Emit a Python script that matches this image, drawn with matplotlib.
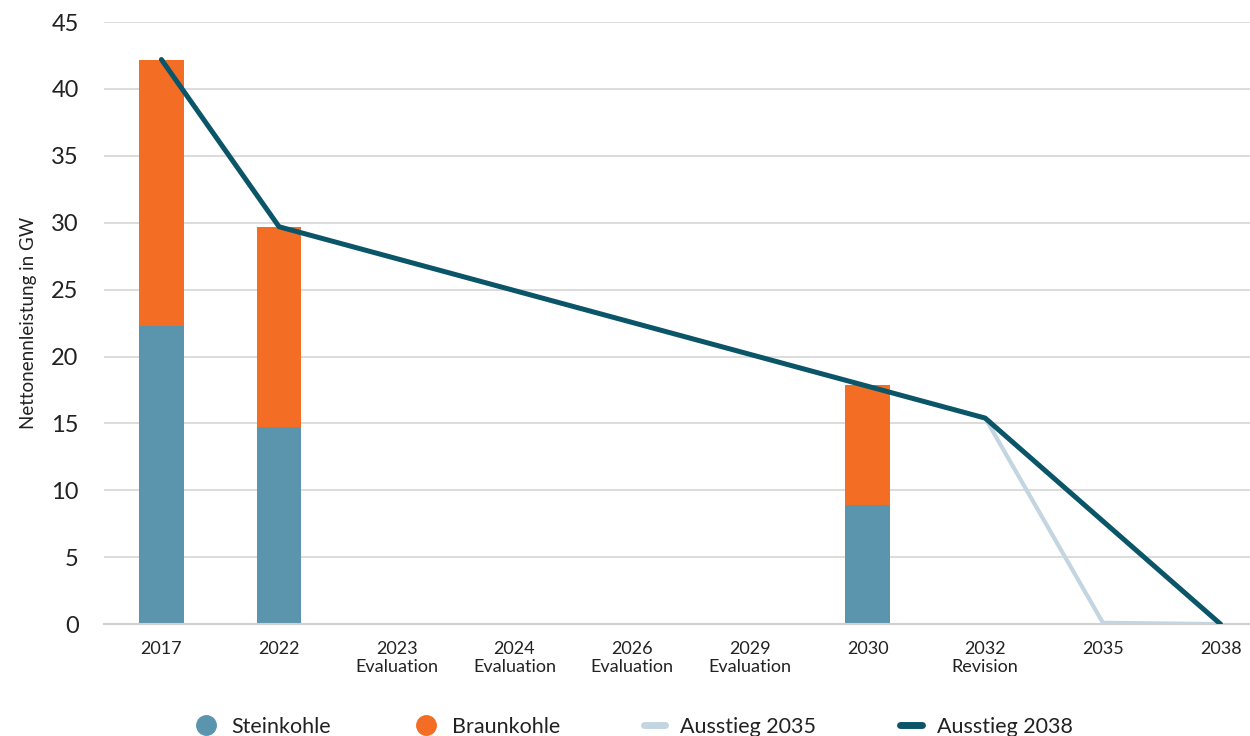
"""Kohleausstieg: installed coal capacity and phase-out paths."""

import matplotlib.pyplot as plt
from matplotlib.lines import Line2D
import numpy as np

plt.rcParams["font.family"] = ["Lato", "DejaVu Sans"]

categories = [
    "2017", "2022", "2023\nEvaluation", "2024\nEvaluation", "2026\nEvaluation",
    "2029\nEvaluation", "2030", "2032\nRevision", "2035", "2038",
]
steinkohle = [22.3, 14.7, 0, 0, 0, 0, 8.9, 0, 0, 0]
braunkohle = [19.9, 15.0, 0, 0, 0, 0, 9.0, 0, 0, 0]
ausstieg_2035 = [np.nan, np.nan, np.nan, np.nan, np.nan, np.nan, np.nan, 15.4, 0.1, 0.0]
ausstieg_2038 = [42.2, 29.7, np.nan, np.nan, np.nan, np.nan, np.nan, 15.4, 7.7, 0.0]

STEIN = "#5b95ad"
BRAUN = "#f36e24"
LIGHT = "#c3d5e0"
DARK = "#0b5569"

fig = plt.figure(figsize=(12.5, 7.36), dpi=100)
ax = fig.add_axes([0.083, 0.152, 0.917, 0.818])

x = np.arange(len(categories))
width = 0.38
has_bar = np.array(steinkohle) + np.array(braunkohle) > 0
ax.bar(x[has_bar], np.array(steinkohle)[has_bar], width, color=STEIN, zorder=2)
ax.bar(x[has_bar], np.array(braunkohle)[has_bar], width,
       bottom=np.array(steinkohle)[has_bar], color=BRAUN, zorder=2)


def _plot_connected(values, **kwargs):
    """Plot a line through the defined points only (gaps are bridged)."""
    values = np.array(values, dtype=float)
    mask = ~np.isnan(values)
    ax.plot(x[mask], values[mask], solid_capstyle="round",
            solid_joinstyle="round", **kwargs)


_plot_connected(ausstieg_2035, color=LIGHT, lw=3.0, zorder=3)
_plot_connected(ausstieg_2038, color=DARK, lw=3.6, zorder=4)

ax.set_xlim(-0.49, 9.25)
ax.set_ylim(0, 45)
ax.set_yticks(range(0, 46, 5))
ax.set_xticks(x)
ax.set_xticklabels(categories, fontsize=13, color="#222222", linespacing=1.2)
ax.tick_params(axis="y", labelsize=17, colors="#222222", length=0, pad=18)
ax.tick_params(axis="x", length=0, pad=12)
ax.grid(axis="y", color="#d9d9d9", lw=1.3, zorder=0)
ax.set_axisbelow(True)
for side in ["top", "right", "left"]:
    ax.spines[side].set_visible(False)
ax.spines["bottom"].set_color("#d0d0d0")
ax.spines["bottom"].set_linewidth(1.5)
ax.set_ylabel("Nettonennleistung in GW", fontsize=13.5, color="#222222", labelpad=10)

handles = [
    Line2D([], [], ls="none", marker="o", ms=14, color=STEIN),
    Line2D([], [], ls="none", marker="o", ms=14, color=BRAUN),
    Line2D([], [], color=LIGHT, lw=5, solid_capstyle="round"),
    Line2D([], [], color=DARK, lw=5, solid_capstyle="round"),
]
labels = ["Steinkohle", "Braunkohle", "Ausstieg 2035", "Ausstieg 2038"]
fig.legend(handles, labels, loc="center", bbox_to_anchor=(0.507, 1 - 727 / 736),
           ncol=4, frameon=False, fontsize=15.5, handlelength=1.0,
           handletextpad=0.7, columnspacing=3.9, labelcolor="#222222")

fig.savefig("out.png", dpi=100)
